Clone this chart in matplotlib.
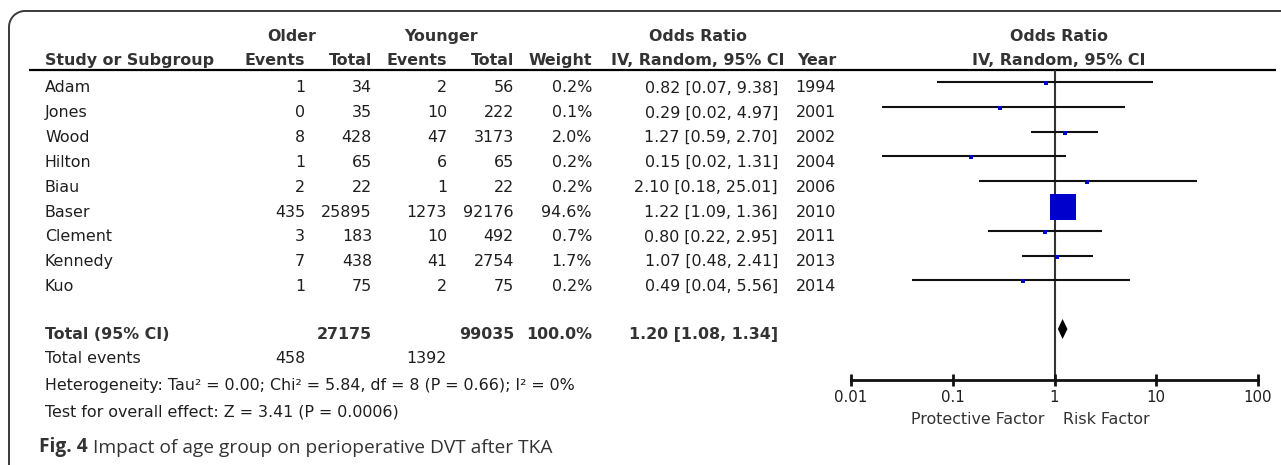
import matplotlib
matplotlib.use("Agg")
import matplotlib.pyplot as plt
from matplotlib.patches import Arc, Polygon

# ---------------- data ----------------
studies = ['Adam', 'Jones', 'Wood', 'Hilton', 'Biau', 'Baser', 'Clement', 'Kennedy', 'Kuo']
older_events = [1, 0, 8, 1, 2, 435, 3, 7, 1]
older_total = [34, 35, 428, 65, 22, 25895, 183, 438, 75]
younger_events = [2, 10, 47, 6, 1, 1273, 10, 41, 2]
younger_total = [56, 222, 3173, 65, 22, 92176, 492, 2754, 75]
weights = [0.2, 0.1, 2.0, 0.2, 0.2, 94.6, 0.7, 1.7, 0.2]
odds = [0.82, 0.29, 1.27, 0.15, 2.10, 1.22, 0.80, 1.07, 0.49]
ci_low = [0.07, 0.02, 0.59, 0.02, 0.18, 1.09, 0.22, 0.48, 0.04]
ci_high = [9.38, 4.97, 2.70, 1.31, 25.01, 1.36, 2.95, 2.41, 5.56]
years = [1994, 2001, 2002, 2004, 2006, 2010, 2011, 2013, 2014]

total_older = 27175
total_younger = 99035
total_weight = '100.0%'
total_or, total_lo, total_hi = 1.20, 1.08, 1.34
events_older = 458
events_younger = 1392
heterogeneity = 'Heterogeneity: Tau² = 0.00; Chi² = 5.84, df = 8 (P = 0.66); I² = 0%'
overall = 'Test for overall effect: Z = 3.41 (P = 0.0006)'
tick_values = [0.01, 0.1, 1, 10, 100]
tick_labels = ['0.01', '0.1', '1', '10', '100']
caption_bold = 'Fig. 4'
caption_text = ' Impact of age group on perioperative DVT after TKA'

# ---------------- layout ----------------
W, H = 1281, 465
fig = plt.figure(figsize=(W / 100, H / 100), dpi=100)
ax = fig.add_axes([0, 0, 1, 1])
ax.set_xlim(0, W)
ax.set_ylim(H, 0)
ax.axis('off')

FONT = 'DejaVu Sans'
FS = 11.4
HEAD = '#333333'
BODY = '#1e1e1e'

row0, dy = 82, 24.8
row_y = [row0 + dy * i for i in range(len(studies))]
base_off = 10.5

# frame
frame_c = '#3a3a3a'
r = 16
fx, fy = 9, 11
ax.plot([fx + r, W], [fy, fy], color=frame_c, lw=1.4, solid_capstyle='butt')
ax.plot([fx, fx], [fy + r, H], color=frame_c, lw=1.4, solid_capstyle='butt')
ax.add_patch(Arc((fx + r, fy + r), 2 * r, 2 * r, theta1=180, theta2=270,
                 color=frame_c, lw=1.4))

# header line
ax.plot([29, 1276], [70, 70], color='black', lw=1.6, solid_capstyle='butt')

def txt(x, y, s, ha='left', bold=False, color=BODY, size=FS):
    ax.text(x, y, s, ha=ha, va='baseline', fontsize=size, family=FONT,
            fontweight='bold' if bold else 'normal', color=color)

# column positions (right edges)
c_name, c_oe, c_ot, c_ye, c_yt, c_w, c_or, c_yr = 45, 305, 372, 447, 514, 592, 778, 836

h1, h2 = 41, 65
txt(292, h1, 'Older', ha='center', bold=True, color=HEAD)
txt(441, h1, 'Younger', ha='center', bold=True, color=HEAD)
txt(698, h1, 'Odds Ratio', ha='center', bold=True, color=HEAD)
txt(1059, h1, 'Odds Ratio', ha='center', bold=True, color=HEAD)
txt(c_name, h2, 'Study or Subgroup', bold=True, color=HEAD)
txt(c_oe, h2, 'Events', ha='right', bold=True, color=HEAD)
txt(c_ot, h2, 'Total', ha='right', bold=True, color=HEAD)
txt(c_ye, h2, 'Events', ha='right', bold=True, color=HEAD)
txt(c_yt, h2, 'Total', ha='right', bold=True, color=HEAD)
txt(c_w, h2, 'Weight', ha='right', bold=True, color=HEAD)
txt(698, h2, 'IV, Random, 95% CI', ha='center', bold=True, color=HEAD)
txt(c_yr, h2, 'Year', ha='right', bold=True, color=HEAD)
txt(1059, h2, 'IV, Random, 95% CI', ha='center', bold=True, color=HEAD)

for i, y in enumerate(row_y):
    b = y + base_off
    txt(c_name, b, studies[i])
    txt(c_oe, b, str(older_events[i]), ha='right')
    txt(c_ot, b, str(older_total[i]), ha='right')
    txt(c_ye, b, str(younger_events[i]), ha='right')
    txt(c_yt, b, str(younger_total[i]), ha='right')
    txt(c_w, b, f'{weights[i]:.1f}%', ha='right')
    txt(c_or, b, f'{odds[i]:.2f} [{ci_low[i]:.2f}, {ci_high[i]:.2f}]', ha='right')
    txt(c_yr, b, str(years[i]), ha='right')

tot_y = 329
tb = tot_y + 10
txt(c_name, tb, 'Total (95% CI)', bold=True, color=HEAD)
txt(c_ot, tb, str(total_older), ha='right', bold=True, color=HEAD)
txt(c_yt, tb, str(total_younger), ha='right', bold=True, color=HEAD)
txt(c_w, tb, total_weight, ha='right', bold=True, color=HEAD)
txt(c_or, tb, f'{total_or:.2f} [{total_lo:.2f}, {total_hi:.2f}]', ha='right', bold=True, color=HEAD)

txt(c_name, 363, 'Total events')
txt(c_oe, 363, str(events_older), ha='right')
txt(c_ye, 363, str(events_younger), ha='right')
txt(c_name, 390, heterogeneity)
txt(c_name, 416, overall)

# caption
cap = ax.text(39, 452, caption_bold, ha='left', va='baseline', fontsize=13.8,
              family='Open Sans', fontweight='bold', color='#333333')
ax.annotate(caption_text, xy=(1, 0), xycoords=cap, va='bottom', ha='left',
            fontsize=13.8, family='Open Sans', color='#333333')

# ---------------- forest plot ----------------
x0, x1 = 851, 1258
y_top, y_bot = 70, 380
fax = fig.add_axes([x0 / W, (H - y_bot) / H, (x1 - x0) / W, (y_bot - y_top) / H])
fax.set_xscale('log')
fax.set_xlim(0.01, 100)
fax.set_ylim(y_bot, y_top)
fax.patch.set_alpha(0)
for s in ['top', 'left', 'right']:
    fax.spines[s].set_visible(False)
fax.spines['bottom'].set_linewidth(2.0)
fax.spines['bottom'].set_color('#111111')
fax.set_yticks([])
fax.set_xticks(tick_values)
fax.set_xticklabels(tick_labels, family=FONT, fontsize=10.8, color=BODY)
fax.xaxis.set_minor_locator(matplotlib.ticker.NullLocator())
fax.tick_params(axis='x', direction='inout', length=9, width=2.0, color='#111111', pad=3)

fax.axvline(1, color='#333333', lw=1.5, zorder=1)

max_w = max(weights)
for i, y in enumerate(row_y):
    fax.plot([ci_low[i], ci_high[i]], [y, y], color='#111111', lw=1.5,
             solid_capstyle='butt', zorder=2)
    side_px = max(4.0, 27.0 * (weights[i] / max_w) ** 0.5)
    fax.plot([odds[i]], [y + 1], marker='s', ms=side_px * 0.72, mew=0,
             color='#0000CC', zorder=3)

dh = 10
fax.add_patch(Polygon([(total_lo, tot_y), (total_or, tot_y - dh), (total_hi, tot_y),
                       (total_or, tot_y + dh)], closed=True, color='black', lw=0, zorder=3))

ax.text(1044, 424, 'Protective Factor', ha='right', va='baseline', family=FONT,
        fontsize=FS, color='#333333')
ax.text(1063, 424, 'Risk Factor', ha='left', va='baseline', family=FONT,
        fontsize=FS, color='#333333')

fig.savefig('out.png', dpi=100)
